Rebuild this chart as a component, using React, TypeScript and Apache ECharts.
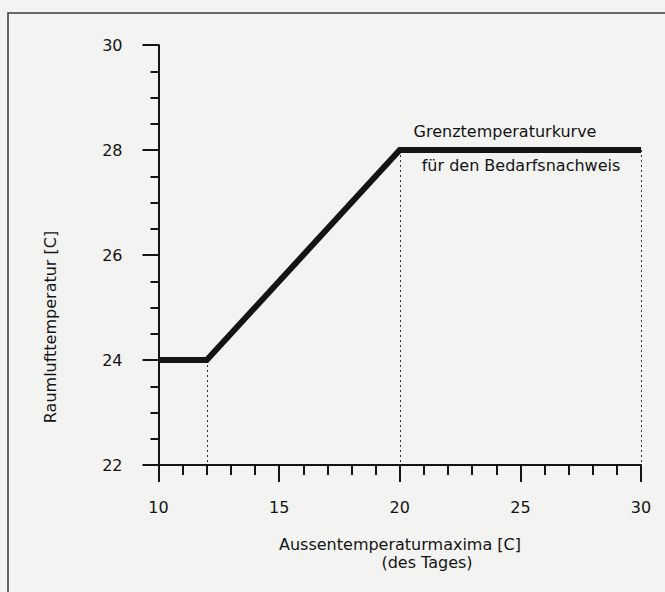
import React, { useEffect, useRef } from "react";
import * as echarts from "echarts";

const curveX = [10, 12, 20, 30];
const curveY = [24, 24, 28, 28];
const dropX = [12, 20, 30];
const dropY = [24, 28, 28];
const xRange = [10, 30];
const yRange = [22, 30];
const xTitle = "Aussentemperaturmaxima [C]";
const xTitle2 = "(des Tages)";
const yTitle = "Raumlufttemperatur [C]";
const note1 = "Grenztemperaturkurve";
const note2 = "für den Bedarfsnachweis";

const FONT = "DejaVu Sans";
const INK = "#141414";

export default function App() {
  const ref = useRef<HTMLDivElement>(null);
  useEffect(() => {
    if (!ref.current) return;
    const chart = echarts.init(ref.current, null, { renderer: "svg" });
    const curve = curveX.map((x, i) => [x, curveY[i]]);
    const drops = dropX.map((x, i) => [
      { coord: [x, dropY[i]] },
      { coord: [x, yRange[0]] },
    ]);
    chart.setOption({
      animation: false,
      backgroundColor: "#f3f3f1",
      grid: { left: 158.5, right: 24, top: 45, bottom: 127, containLabel: false },
      xAxis: {
        type: "value",
        min: xRange[0],
        max: xRange[1],
        interval: 5,
        axisLine: { show: true, lineStyle: { color: INK, width: 2 } },
        axisTick: { show: true, length: 17, lineStyle: { color: INK, width: 2 } },
        minorTick: { show: true, splitNumber: 5, length: 10, lineStyle: { color: INK, width: 2 } },
        splitLine: { show: false },
        axisLabel: { margin: 34, color: INK, fontSize: 16, fontFamily: FONT },
      },
      yAxis: {
        type: "value",
        min: yRange[0],
        max: yRange[1],
        interval: 2,
        axisLine: { show: true, lineStyle: { color: INK, width: 2 } },
        axisTick: { show: true, length: 16, lineStyle: { color: INK, width: 2 } },
        minorTick: { show: true, splitNumber: 4, length: 8, lineStyle: { color: INK, width: 2 } },
        splitLine: { show: false },
        axisLabel: { margin: 36, color: INK, fontSize: 16, fontFamily: FONT },
      },
      series: [
        {
          type: "line",
          data: curve,
          symbol: "none",
          lineStyle: { color: INK, width: 6, join: "miter" },
          z: 5,
          markLine: {
            silent: true,
            symbol: ["none", "none"],
            label: { show: false },
            lineStyle: { color: "#333", width: 1, type: [2, 3] },
            data: drops,
            z: 2,
          },
        },
      ],
      graphic: [
        {
          type: "rect",
          shape: { x: 8, y: 13, width: 800, height: 800 },
          style: { fill: "none", stroke: "#3a3a3a", lineWidth: 1.5 },
          silent: true,
        },
        {
          type: "text",
          x: 505,
          y: 131,
          style: { text: note1, fill: INK, font: `16px "${FONT}"`, align: "center", verticalAlign: "middle" },
        },
        {
          type: "text",
          x: 521,
          y: 165,
          style: { text: note2, fill: INK, font: `16px "${FONT}"`, align: "center", verticalAlign: "middle" },
        },
        {
          type: "text",
          x: 400,
          y: 544,
          style: { text: xTitle, fill: INK, font: `16px "${FONT}"`, align: "center", verticalAlign: "middle" },
        },
        {
          type: "text",
          x: 427,
          y: 562.5,
          style: { text: xTitle2, fill: INK, font: `16px "${FONT}"`, align: "center", verticalAlign: "middle" },
        },
        {
          type: "text",
          x: 50,
          y: 327,
          rotation: Math.PI / 2,
          style: { text: yTitle, fill: INK, font: `16px "${FONT}"`, align: "center", verticalAlign: "middle" },
        },
      ],
    });
    return () => chart.dispose();
  }, []);
  return (
    <div
      ref={ref}
      style={{ position: "absolute", left: 0, top: 0, width: 665, height: 592 }}
    />
  );
}
